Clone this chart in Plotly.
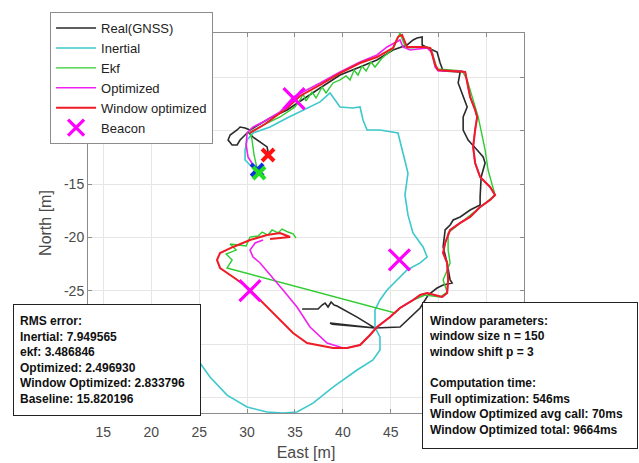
import plotly.graph_objects as go

# ---------------- data ----------------
gnss_east = [35.74, 37.41, 37.83, 38.14, 38.45, 38.77, 39.08, 39.39, 41.48, 43.35, 38.66, 38.9, 43.35,
             45.96, 48.06, 48.90, 49.83, 50.46, 51.40, 51.19, 50.88, 50.46, 50.67, 51.19, 51.51, 52.24,
             53.28, 54.32, 54.32, 54.43, 54.84, 54.64, 54.01, 53.07, 52.55, 52.55, 52.97, 52.55, 52.03,
             52.24, 50.46, 50.15, 49.83, 48.90, 48.27, 48.27, 47.74, 47.33, 46.70, 45.23, 43.55, 41.79,
             39.70, 37.62, 34.17, 32.40, 30.31, 29.79, 29.27, 28.96, 28.54, 28.23, 28.02, 28.44, 28.96,
             29.27, 29.58, 30.10, 30.62, 31.36, 32.09, 32.19]
gnss_north = [-26.72, -26.72, -26.34, -26.15, -26.53, -26.06, -26.34, -26.44, -27.47, -28.50, -28.03, -28.15, -28.50,
              -28.40, -26.62, -25.40, -24.75, -24.47, -24.28, -24.00, -22.40, -20.90, -19.31, -18.84, -18.37, -18.09,
              -17.44, -16.97, -16.22, -14.34, -13.03, -12.47, -11.81, -10.88, -9.94, -8.72, -7.78, -6.85, -5.53,
              -4.50, -4.41, -3.66, -2.63, -2.25, -1.97, -1.22, -1.32, -1.50, -1.97, -2.44, -3.38, -4.04,
              -4.79, -6.00, -8.06, -8.81, -9.94, -9.75, -9.66, -9.94, -10.22, -10.41, -10.88, -11.34, -11.34,
              -10.88, -10.60, -10.13, -10.60, -11.06, -11.53, -12.00]

inertial_east = [30.62, 29.79, 29.79, 30.00, 30.62, 32.40, 34.17, 36.26, 37.62, 38.66, 39.18, 39.70, 41.06,
                 41.79, 42.10, 42.52, 43.87, 45.23, 45.75, 46.27, 46.79, 46.48, 46.79, 47.31, 48.37, 48.79,
                 48.06, 46.70, 45.65, 44.61, 43.87, 43.35, 43.35, 43.87, 43.87, 43.14, 41.48, 38.97, 36.88,
                 35.21, 33.75, 32.08, 30.00, 27.91, 26.13, 25.09, 24.05]
inertial_north = [-13.50, -12.75, -11.81, -10.88, -10.22, -9.66, -8.81, -7.88, -7.31, -6.47, -7.13, -7.78, -7.88,
                  -7.78, -9.00, -9.94, -9.94, -10.13, -10.22, -12.09, -13.97, -16.03, -17.90, -19.59, -20.90, -21.84,
                  -22.40, -23.06, -24.00, -24.93, -25.87, -26.81, -28.40, -29.34, -30.56, -31.49, -32.43, -34.03, -35.53,
                  -36.37, -36.46, -36.37, -35.90, -34.78, -33.09, -31.78, -30.09]

ekf_east = [31.15, 30.73, 30.52, 30.31, 31.88, 33.44, 35.00, 35.53, 35.84, 36.15, 36.78, 37.20, 37.83, 38.24,
            38.97, 39.70, 40.33, 40.75, 41.17, 41.58, 42.00, 42.42, 42.94, 43.35, 44.09, 45.23, 45.96, 46.38,
            46.69, 48.58, 49.21, 49.53, 49.84, 52.45, 52.97, 53.59, 54.12, 54.84, 55.15, 55.88, 54.32, 52.24,
            50.98, 50.98, 51.19, 50.46, 50.88, 50.15, 48.58, 47.33, 45.96, 45.44, 27.91, 28.44, 27.81, 28.86,
            28.23, 29.90, 30.31, 31.15, 31.57, 32.19, 32.61, 33.23, 33.65, 34.28, 34.80, 35.11]
ekf_north = [-13.97, -12.28, -10.88, -10.13, -9.38, -8.72, -7.78, -7.13, -6.57, -7.22, -6.38, -6.94, -5.91, -6.47,
             -5.53, -5.25, -4.88, -5.25, -4.32, -4.79, -3.94, -4.41, -3.57, -4.04, -3.19, -2.35, -0.85, -1.88,
             -2.25, -2.16, -2.35, -3.38, -4.22, -4.41, -5.25, -7.13, -8.72, -11.81, -13.69, -16.03, -17.16, -18.65,
             -19.59, -21.19, -22.40, -24.00, -25.12, -25.59, -25.40, -25.87, -26.62, -27.09, -22.87, -22.12, -21.56, -21.19,
             -20.62, -20.81, -19.97, -19.87, -19.50, -19.78, -19.31, -19.59, -19.22, -19.50, -19.68, -20.06]

opt_east = [30.62, 30.10, 29.90, 30.00, 30.62, 31.67, 33.44, 34.80, 37.62, 39.70, 41.79, 43.56, 44.61, 45.96,
            46.27, 47.00, 48.79, 49.32, 49.63, 49.95, 52.24, 52.76, 53.07, 53.28, 53.80, 54.01, 53.80, 53.59,
            53.80, 54.32, 55.36, 55.88, 55.36, 54.32, 53.28, 52.24, 51.19, 50.67, 50.46, 50.88, 50.98, 50.88,
            50.36, 49.42, 48.79, 48.06, 47.33, 45.96, 44.92, 43.56, 42.83, 41.79, 40.43, 40.02, 38.35, 36.57,
            35.21, 33.75, 32.71, 31.36, 30.62, 30.31, 30.84, 31.67]
opt_north = [-13.22, -12.47, -11.34, -10.22, -9.66, -9.19, -8.25, -6.85, -5.53, -4.50, -3.57, -2.91, -2.16, -1.50,
             -2.16, -2.44, -2.25, -2.72, -4.04, -4.41, -4.41, -4.50, -5.91, -6.85, -8.06, -8.72, -9.94, -11.53,
             -13.03, -14.34, -15.28, -16.03, -16.50, -17.16, -18.09, -18.65, -19.31, -20.53, -21.47, -22.40, -24.00, -25.22,
             -25.59, -25.40, -25.22, -25.40, -25.87, -26.62, -27.47, -28.40, -29.15, -30.09, -30.37, -30.37, -29.90, -28.40,
             -26.53, -24.93, -23.81, -22.40, -21.84, -21.19, -20.53, -20.25]

win_east = [30.31, 31.88, 34.17, 35.53, 37.62, 39.70, 41.79, 43.56, 45.23, 45.75, 46.17, 46.48, 46.69, 47.31,
            48.37, 49.11, 49.42, 49.63, 49.95, 52.24, 52.76, 53.07, 53.28, 53.80, 54.01, 53.80, 53.59, 53.80,
            54.32, 55.36, 55.88, 55.36, 54.32, 53.28, 52.24, 51.19, 50.67, 50.46, 50.88, 50.98, 50.88, 50.36,
            49.42, 48.79, 48.06, 47.33, 45.96, 44.92, 43.56, 42.83, 41.79, 40.43, 38.97, 36.26, 34.80, 33.44,
            32.08, 31.04, 30.00, 28.54, 27.18, 26.86, 27.18, 28.54, 30.31, 32.08, 33.44, 34.49, 32.40]
win_north = [-10.22, -9.38, -7.88, -6.75, -5.72, -4.60, -3.66, -3.10, -2.25, -1.22, -1.03, -1.79, -2.16, -2.16,
             -2.16, -2.25, -3.10, -3.85, -4.32, -4.41, -4.50, -5.91, -6.85, -8.06, -8.72, -9.94, -11.53, -13.03,
             -14.34, -15.28, -16.03, -16.50, -17.16, -18.09, -18.65, -19.31, -20.53, -21.47, -22.40, -24.00, -25.22, -25.59,
             -25.40, -25.22, -25.40, -25.87, -26.62, -27.47, -28.40, -29.15, -30.09, -30.37, -30.37, -29.90, -28.96, -27.75,
             -26.53, -25.59, -24.65, -23.72, -22.87, -22.12, -21.47, -20.90, -20.25, -19.78, -19.59, -19.97, -20.15]

beacon_east = [34.9, 30.3, 45.9]
beacon_north = [-7.0, -25.0, -22.1]

start_east = [32.19, 31.05, 31.25]
start_north = [-12.28, -13.69, -13.97]
start_colors = ["#ff1010", "#1030e0", "#22dd22"]

x_ticks = [15, 20, 25, 30, 35, 40, 45, 50, 55]
x_labels = ["15", "20", "25", "30", "35", "40", "45", "", ""]      # 50, 55 hidden under the text box
y_ticks = [-35, -30, -25, -20, -15, -10, -5]
y_labels = ["", "", "-25", "-20", "-15", "", ""]                  # others hidden under legend / text box

rms_lines = ["RMS error:", "Inertial: 7.949565", "ekf: 3.486846", "Optimized: 2.496930",
             "Window Optimized: 2.833796", "Baseline: 15.820196"]
win_lines = ["Window parameters:", "window size n = 150", "window shift p = 3", "",
             "Computation time:", "Full optimization: 546ms", "Window Optimized avg call: 70ms",
             "Window Optimized total: 9664ms"]

# ---------------- figure ----------------
FONT = "Liberation Sans, Arial, sans-serif"
fig = go.Figure()

fig.add_trace(go.Scatter(x=gnss_east, y=gnss_north, mode="lines", name="Real(GNSS)",
                         line=dict(color="#2a2a2a", width=1.6)))
fig.add_trace(go.Scatter(x=inertial_east, y=inertial_north, mode="lines", name="Inertial",
                         line=dict(color="#3cc8cc", width=1.6)))
fig.add_trace(go.Scatter(x=ekf_east, y=ekf_north, mode="lines", name="Ekf",
                         line=dict(color="#2ecc2e", width=1.4)))
fig.add_trace(go.Scatter(x=opt_east, y=opt_north, mode="lines", name="Optimized",
                         line=dict(color="#f020f0", width=1.6)))
fig.add_trace(go.Scatter(x=win_east, y=win_north, mode="lines", name="Window optimized",
                         line=dict(color="#ee1c25", width=2)))
fig.add_trace(go.Scatter(x=start_east, y=start_north, mode="markers", showlegend=False,
                         marker=dict(symbol="x-thin", size=12,
                                     line=dict(color=start_colors, width=4))))
fig.add_trace(go.Scatter(x=beacon_east, y=beacon_north, mode="markers", name="Beacon",
                         marker=dict(symbol="x-thin", size=21, color="#ff00ff",
                                     line=dict(color="#ff00ff", width=3.2))))

axis_common = dict(showgrid=True, gridcolor="#e6e6e6", gridwidth=1, zeroline=False,
                   showline=True, linecolor="#8c8c8c", linewidth=1, mirror="ticks",
                   ticks="inside", ticklen=4, tickcolor="#8c8c8c",
                   tickfont=dict(family=FONT, size=14, color="#4a4a4a"))

fig.update_xaxes(range=[13.4, 58.9], tickvals=x_ticks, ticktext=x_labels, ticklabelstandoff=6,
                 title=dict(text="East [m]", font=dict(family=FONT, size=16, color="#4a4a4a"), standoff=8),
                 **axis_common)
fig.update_yaxes(range=[-36.46, -0.85], tickvals=y_ticks, ticktext=y_labels,
                 title=dict(text="North [m]", font=dict(family=FONT, size=16, color="#4a4a4a"), standoff=8),
                 **axis_common)

fig.add_annotation(xref="paper", yref="paper", x=-0.172, y=0.287, xanchor="left", yanchor="top",
                   text="<br>".join("<b>%s</b>" % s for s in rms_lines), align="left", showarrow=False,
                   width=174, height=98,
                   font=dict(family=FONT, size=12, color="#111"), bgcolor="white",
                   bordercolor="#222", borderwidth=1, borderpad=6)
fig.add_annotation(xref="paper", yref="paper", x=0.766, y=0.292, xanchor="left", yanchor="top",
                   text="<br>".join("<b>%s</b>" % s if s else " " for s in win_lines), align="left",
                   showarrow=False, width=202, height=133,
                   font=dict(family=FONT, size=12, color="#111"), bgcolor="white",
                   bordercolor="#222", borderwidth=1, borderpad=6)

fig.update_layout(
    width=639, height=463,
    margin=dict(l=88, r=115, t=33, b=50, autoexpand=False),
    paper_bgcolor="white", plot_bgcolor="white",
    showlegend=True,
    legend=dict(x=-0.087, y=1.055, xanchor="left", yanchor="top",
                bgcolor="white", bordercolor="#8c8c8c", borderwidth=1,
                font=dict(family=FONT, size=13, color="#222"),
                itemwidth=40, tracegroupgap=0),
)

fig.write_html("out.html", config={"displayModeBar": False},
               post_script="document.body.style.margin='0px';")
